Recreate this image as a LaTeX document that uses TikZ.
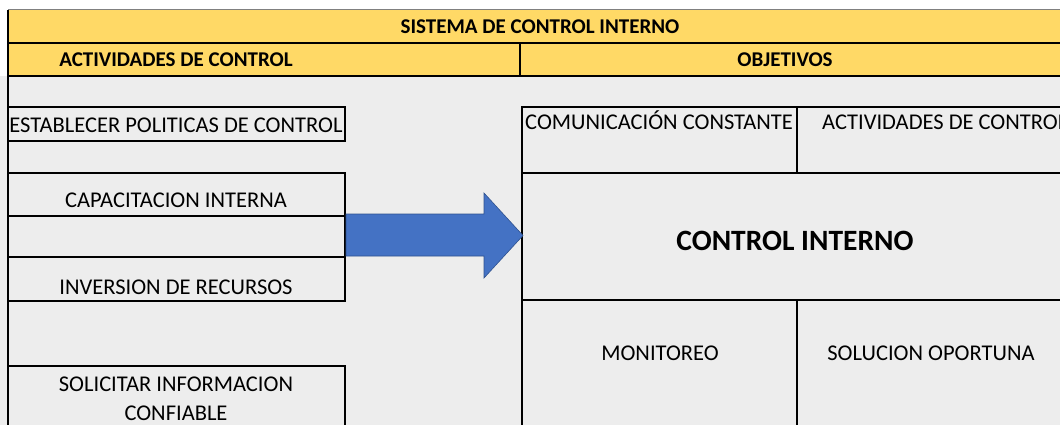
\documentclass[tikz,border=0pt]{standalone}
\usepackage{fontspec}
\setmainfont{Carlito}
\definecolor{hdr}{HTML}{FFD966}
\definecolor{bgc}{HTML}{EDEDED}
\definecolor{arrfill}{HTML}{4472C4}
\definecolor{arrline}{HTML}{2F528F}
\begin{document}
\begin{tikzpicture}[x=1pt,y=-1pt,
  cellline/.style={line width=1.6pt, black},
  txt/.style={font=\fontsize{22.5}{26}\selectfont, inner sep=0pt, anchor=base},
  hdrtxt/.style={font=\bfseries\fontsize{21}{25}\selectfont, inner sep=0pt, anchor=base},
  bigtxt/.style={font=\bfseries\fontsize{29.5}{34}\selectfont, inner sep=0pt, anchor=base}]
\useasboundingbox (0,0) rectangle (1060,425);
\fill[white] (0,0) rectangle (1060,425);
\fill[bgc] (0,76) rectangle (1060,425);
\fill[hdr] (8,10) rectangle (1060,76);
% header grid
\draw[gray, line width=1pt] (8,10) -- (1060,10);
\draw[cellline] (8,43) -- (1060,43);
\draw[cellline] (8,76) -- (1060,76);
\draw[cellline] (520,43) -- (520,76);
\draw[cellline] (8,10) -- (8,426);
% left boxes
\draw[cellline] (8,107) rectangle (345,141);
\draw[cellline] (8,173) rectangle (345,301);
\draw[cellline] (8,216) -- (345,216);
\draw[cellline] (8,257) -- (345,257);
\draw[cellline] (8,366) -- (345,366) -- (345,426);
% right box
\draw[cellline] (1061,107) -- (522,107) -- (522,426);
\draw[cellline] (522,173) -- (1061,173);
\draw[cellline] (522,300) -- (1061,300);
\draw[cellline] (797,107) -- (797,173);
\draw[cellline] (797,300) -- (797,426);
% texts
\node[hdrtxt] (titulo) at (540,34) {SISTEMA DE CONTROL INTERNO};
\node[hdrtxt] (actividades) at (176,67) {ACTIVIDADES DE CONTROL};
\node[hdrtxt] (objetivos) at (785,67) {OBJETIVOS};
\node[txt] (establecer) at (176,132) {ESTABLECER POLITICAS DE CONTROL};
\node[txt] (capacitacion) at (176,207) {CAPACITACION INTERNA};
\node[txt] (inversion) at (176,294) {INVERSION DE RECURSOS};
\node[txt] (solicitar) at (176,391) {SOLICITAR INFORMACION};
\node[txt] (confiable) at (176,420) {CONFIABLE};
\node[txt, anchor=base west] (comunicacion) at (525,130) {COMUNICACIÓN CONSTANTE};
\node[txt, anchor=base west] (actividades2) at (822,130) {ACTIVIDADES DE CONTROL};
\node[bigtxt] (control) at (795,250) {CONTROL INTERNO};
\node[txt] (monitoreo) at (660,360) {MONITOREO};
\node[txt] (solucion) at (931,360) {SOLUCION OPORTUNA};
% arrow
\coordinate (a0) at (346,214);
\coordinate (tip) at (523,235.5);
\fill[arrfill, draw=arrline, line width=0.6pt]
  (a0) -- (484,214) -- (484,193) -- (tip) -- (484,278) -- (484,256) -- (346,256) -- cycle;
\end{tikzpicture}
\end{document}
